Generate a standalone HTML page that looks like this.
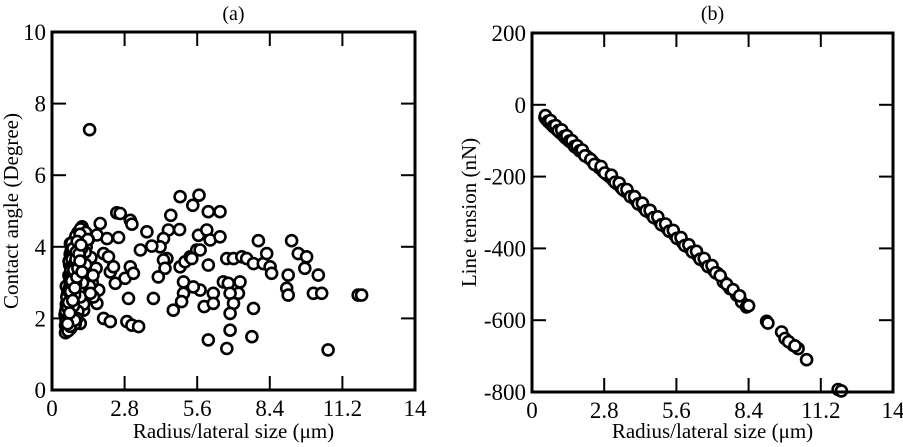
<!DOCTYPE html>
<html><head><meta charset="utf-8"><style>
html,body{margin:0;padding:0;background:#fff;}
svg{display:block;font-family:"Liberation Serif",serif;}
</style></head><body>
<svg id="fig" width="903" height="447" viewBox="0 0 903 447"></svg>
<script>
// Panel (a) data: contact angle vs radius
const aX = [1.45,4.94,5.67,5.43,6.03,6.48,2.50,2.63,3.02,3.08,4.58,3.66,4.49,4.92,5.65,5.97,6.10,6.48,7.96,9.24,1.86,1.16,0.71,2.12,2.57,4.30,4.17,3.85,3.41,4.43,4.30,4.36,4.10,4.94,5.13,5.33,5.58,5.71,6.03,5.39,6.74,7.00,7.32,7.51,7.77,8.15,8.28,8.41,8.47,9.11,9.50,9.82,9.75,10.27,9.05,9.11,10.08,10.40,11.81,11.94,10.65,7.77,7.71,6.87,6.74,6.03,5.87,6.22,6.22,6.61,6.80,7.25,7.19,6.87,7.00,6.87,5.71,5.45,5.07,5.07,5.00,4.68,3.91,2.95,2.89,3.08,3.34,1.99,2.25,1.73,2.82,3.02,3.14,2.44,2.25,1.99,2.18,2.37,1.22,1.09,1.80,1.73,
0.50,0.52,0.55,0.58,0.60,0.62,0.65,0.55,0.60,0.68,0.70,0.72,0.75,0.78,0.80,0.62,0.66,0.70,0.74,0.78,0.82,0.85,0.88,0.90,0.95,1.00,0.58,0.64,0.72,0.80,0.86,0.92,0.98,1.05,1.10,1.15,1.20,1.25,1.30,1.35,1.40,1.50,1.55,1.60,1.70,0.68,0.76,0.84,0.94,1.04,1.12,1.22,1.32,1.45,1.58,0.90,1.00,1.10,1.20,1.30,0.52,0.56,0.62,0.70,0.66,0.74,0.82,1.08,1.18,1.28,1.38,1.48,0.96,0.88,1.02,
0.54,0.58,0.63,0.67,0.71,0.75,0.79,0.83,0.87,0.91,0.53,0.57,0.61,0.65,0.69,0.73,0.77,0.81,0.85,0.89,0.93,0.97,1.01,1.06,1.14,0.60,0.64,0.68,0.72,0.76,0.80,0.84,0.88,0.92,0.96,1.00,1.04,1.08,1.12,1.16];
const aY = [7.27,5.40,5.44,5.16,4.98,4.98,4.95,4.93,4.74,4.63,4.88,4.42,4.47,4.48,4.32,4.47,4.19,4.28,4.17,4.17,4.65,4.56,4.09,4.23,4.26,4.23,4.00,4.02,3.91,3.67,3.63,3.40,3.16,3.44,3.58,3.72,3.91,3.91,3.49,3.67,3.67,3.67,3.72,3.67,3.53,3.53,3.81,3.44,3.26,3.21,3.81,3.72,3.40,3.21,2.84,2.65,2.70,2.70,2.65,2.65,1.12,2.28,1.49,1.67,1.16,1.40,2.33,2.70,2.42,3.02,2.98,3.02,2.70,2.70,2.42,2.14,2.79,2.88,3.02,2.70,2.47,2.23,2.56,2.56,1.91,1.81,1.77,2.00,1.91,2.42,3.12,3.44,3.26,2.98,3.30,3.81,3.72,3.44,2.23,1.86,2.79,4.33,
2.10,1.80,2.40,1.70,2.70,2.00,3.20,2.90,1.90,2.50,3.00,3.40,2.20,3.60,2.80,1.75,2.30,3.80,3.10,4.00,2.60,3.50,4.20,3.30,3.90,4.40,2.05,1.68,1.72,2.15,2.90,4.30,3.70,3.20,4.50,3.90,4.10,3.30,4.40,2.90,4.20,3.70,3.00,2.60,3.40,3.50,4.10,2.50,3.60,2.80,3.10,2.40,4.00,2.90,3.20,1.85,2.20,2.60,3.80,3.50,1.60,2.30,1.65,1.78,3.60,3.90,2.45,4.35,3.00,3.85,4.20,2.70,2.00,1.95,3.50,
1.95,2.25,2.55,2.85,3.15,3.45,3.75,2.35,2.65,2.95,2.20,2.60,2.30,2.75,3.05,3.35,3.65,3.95,3.25,3.55,3.85,4.15,3.45,3.75,3.95,1.85,2.45,2.15,2.75,3.05,2.50,3.35,2.85,3.65,3.15,3.40,3.80,3.60,4.05,3.30];
const aXTicks = ["0","2.8","5.6","8.4","11.2","14"];
const aYTicks = ["0","2","4","6","8","10"];
// Panel (b) data: line tension vs radius
const bX = [0.50,0.55,0.60,0.65,0.70,0.75,0.80,0.85,0.90,0.95,1.00,1.05,1.10,1.20,1.30,1.40,1.50,1.60,1.70,1.80,1.90,2.00,2.10,2.20,2.35,2.50,2.60,2.75,2.90,3.00,3.15,3.30,3.45,3.60,3.75,3.90,4.05,4.20,4.35,4.50,4.65,4.80,4.95,5.10,5.25,5.40,5.55,5.70,5.85,6.00,6.15,6.30,6.45,6.60,6.75,6.90,7.05,7.20,7.42,7.68,7.94,8.13,8.32,9.10,9.15,9.68,9.81,10.13,10.32,10.65,11.87,12.00,
0.52,0.62,0.72,0.82,0.92,1.02,1.15,1.25,1.35,1.45,1.55,1.65,1.75,1.85,1.95,2.05,2.28,2.42,2.68,2.82,3.08,3.22,3.38,3.52,3.68,3.82,3.98,4.12,4.28,4.42,4.58,4.72,4.88,5.02,5.18,5.32,5.48,5.62,5.78,5.92,6.08,6.22,6.38,6.52,6.68,6.82,6.98,7.12,7.30,7.55,7.80,8.05,8.40,9.95,10.20];
const bY = [-35,-40,-42,-48,-50,-55,-57,-62,-64,-68,-71,-75,-78,-84,-92,-98,-104,-110,-118,-122,-130,-136,-142,-148,-158,-168,-175,-185,-194,-200,-210,-220,-230,-240,-248,-258,-268,-278,-288,-297,-306,-316,-326,-336,-345,-354,-364,-374,-384,-394,-402,-412,-422,-432,-442,-452,-461,-470,-493,-512,-530,-549,-563,-603,-608,-633,-651,-670,-679,-710,-793,-797,
-30,-46,-44,-60,-58,-72,-70,-88,-86,-101,-100,-116,-114,-128,-126,-142,-152,-166,-172,-190,-196,-216,-218,-236,-236,-256,-256,-276,-274,-295,-294,-314,-312,-334,-332,-352,-350,-372,-370,-392,-390,-410,-408,-430,-428,-450,-448,-468,-476,-500,-515,-532,-560,-660,-672];
const bXTicks = ["0","2.8","5.6","8.4","11.2","14"];
const bYTicks = ["200","0","-200","-400","-600","-800"];

const NS="http://www.w3.org/2000/svg";
const svg=document.getElementById('fig');
function mk(tag,attrs,parent){const e=document.createElementNS(NS,tag);for(const k in attrs)e.setAttribute(k,attrs[k]);(parent||svg).appendChild(e);return e;}

function panel(cfg){
  const g=mk('g',{});
  
  
  const L=cfg.L,R=cfg.R,T=cfg.T,B=cfg.B;
  const sx=v=>L+(v-cfg.xmin)/(cfg.xmax-cfg.xmin)*(R-L);
  const sy=v=>B-(v-cfg.ymin)/(cfg.ymax-cfg.ymin)*(B-T);
  const pts=mk('g',{},g);
  
  
  for(let i=0;i<cfg.xs.length;i++){
    const c=mk('circle',{cx:sx(cfg.xs[i]).toFixed(1),cy:sy(cfg.ys[i]).toFixed(1),r:5.5,fill:'#fff',stroke:'#000','stroke-width':2.6},pts);
    
    
  }
  const fr=mk('rect',{x:L,y:T,width:R-L,height:B-T,fill:'none',stroke:'#000','stroke-width':3},g);
  
  
  const nx=cfg.xTicks.length;
  for(let i=0;i<nx;i++){
    const v=cfg.xmin+i*(cfg.xmax-cfg.xmin)/(nx-1);const x=sx(v);
    mk('line',{x1:x,y1:B,x2:x,y2:B-14,stroke:'#000','stroke-width':2},g);
    mk('line',{x1:x,y1:T,x2:x,y2:T+14,stroke:'#000','stroke-width':2},g);
    const t=mk('text',{x:x,y:B+26,'text-anchor':'middle','font-size':23},g);
    t.textContent=cfg.xTicks[i];
    
    
  }
  const ny=cfg.yTicks.length;
  for(let i=0;i<ny;i++){
    const y=T+i*(B-T)/(ny-1);
    mk('line',{x1:L,y1:y,x2:L+14,y2:y,stroke:'#000','stroke-width':2},g);
    mk('line',{x1:R,y1:y,x2:R-14,y2:y,stroke:'#000','stroke-width':2},g);
    const t=mk('text',{x:L-6,y:y+8,'text-anchor':'end','font-size':23},g);
    t.textContent=cfg.yTicks[cfg.yDesc?i:ny-1-i];
    
    
  }
  const xt=mk('text',{x:(L+R)/2,y:438,'text-anchor':'middle','font-size':21},g);
  xt.textContent='Radius/lateral size (\u03bcm)';
  
  
  const yt=mk('text',{x:0,y:0,'text-anchor':'middle','font-size':21,transform:`translate(${cfg.yTitleX},${(T+B)/2}) rotate(-90)`},g);
  yt.textContent=cfg.yTitle;
  
  
  const pt=mk('text',{x:(L+R)/2,y:20,'text-anchor':'middle','font-size':20},g);
  pt.textContent=cfg.label;
  
  
}
panel({name:'panel-a',L:52,R:415,T:32,B:390,xmin:0,xmax:14,ymin:0,ymax:10,xs:aX,ys:aY,xTicks:aXTicks,yTicks:aYTicks,yDesc:false,yTitle:'Contact angle (Degree)',yTitleX:18,label:'(a)'});
panel({name:'panel-b',L:532,R:893,T:33,B:392,xmin:0,xmax:14,ymin:-800,ymax:200,xs:bX,ys:bY,xTicks:bXTicks,yTicks:bYTicks,yDesc:true,yTitle:'Line tension (nN)',yTitleX:476,label:'(b)'});
</script>
</body></html>
